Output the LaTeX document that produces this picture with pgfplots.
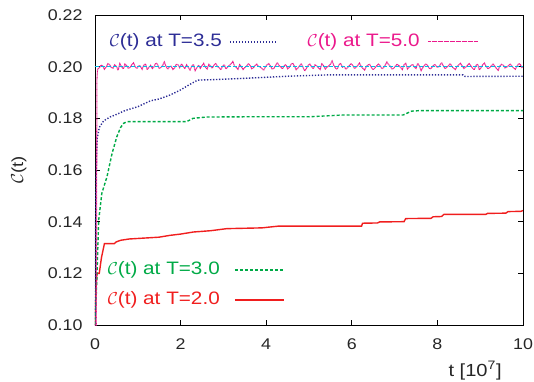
\documentclass[border=0pt]{standalone}
\usepackage{fontspec}
\setmainfont{Liberation Sans}[FakeStretch=1.15]
\usepackage{pgfplots}
\pgfplotsset{compat=1.18}
\definecolor{cblue}{RGB}{45,45,150}
\definecolor{cmag}{RGB}{235,25,140}
\definecolor{cgreen}{RGB}{0,170,70}
\definecolor{cred}{RGB}{240,30,30}
\definecolor{ccyan}{RGB}{0,185,230}
\begin{document}
\begin{tikzpicture}
\begin{axis}[
  at={(0,0)}, anchor=south west,
  scale only axis, width=428pt, height=310pt,
  xmin=0, xmax=10, ymin=0.10, ymax=0.22,
  xtick={0,2,4,6,8,10},
  ytick={0.10,0.12,0.14,0.16,0.18,0.20,0.22},
  /pgf/number format/assume math mode=true,
  yticklabel style={xshift=-9pt, /pgf/number format/fixed, /pgf/number format/fixed zerofill, /pgf/number format/precision=2},
  xticklabel style={yshift=-10pt},
  ticklabel style={font=\fontsize{15.5}{18}\selectfont, text=black!85},
  tick align=inside, major tick length=5pt,
  tick style={black, line width=0.8pt},
  axis line style={black, line width=0.9pt},
  xlabel={t [10\textsuperscript{7}]},
  ylabel={$\mathcal{C}$(t)},
  xlabel style={at={(axis description cs:0.888,-0.147)}, anchor=center, text=black!85, font=\fontsize{17.5}{20}\selectfont},
  ylabel style={at={(axis description cs:-0.178,0.5)}, anchor=center, text=black!85, font=\fontsize{16}{18}\selectfont},
  clip mode=individual,
]
% T=2.0 (red, solid)
\addplot[cred, line width=1.4pt] coordinates {
(0,0.100) (0.02,0.112) (0.045,0.120) (0.10,0.120) (0.15,0.126) (0.22,0.1315)
(0.45,0.1315) (0.50,0.1322) (0.60,0.1328) (0.80,0.1333) (1.50,0.1340)
(1.75,0.1347) (2.00,0.1352) (2.30,0.1360) (2.70,0.1365) (3.08,0.1373)
(3.90,0.1376) (4.30,0.1383) (6.23,0.1383) (6.25,0.1394) (6.60,0.1395)
(6.65,0.1399) (7.22,0.1400) (7.26,0.1412) (7.85,0.1413) (7.90,0.1419)
(8.10,0.1420) (8.15,0.1428) (9.13,0.1428) (9.17,0.1432) (9.60,0.1433)
(9.65,0.1439) (9.95,0.1440) (10,0.1443)
};
% T=3.0 (green, dashed)
\addplot[cgreen, line width=1.4pt, dash pattern=on 3pt off 2pt] coordinates {
(0,0.100) (0.03,0.112) (0.047,0.120) (0.086,0.1406) (0.16,0.151) (0.28,0.1574)
(0.40,0.1665) (0.51,0.1729) (0.60,0.1765) (0.67,0.1781) (0.75,0.1787)
(1.50,0.1787) (2.14,0.1787) (2.29,0.1800) (2.60,0.1805) (3.50,0.1806)
(5.00,0.1806) (5.80,0.1813) (7.20,0.1813) (7.40,0.1828) (7.60,0.1830)
(10,0.1830)
};
% T=3.5 (blue, dotted)
\addplot[cblue, line width=1.4pt, dash pattern=on 1.3pt off 1.7pt] coordinates {
(0,0.100) (0.02,0.150) (0.035,0.165) (0.05,0.172) (0.10,0.1765) (0.20,0.179)
(0.35,0.1805) (0.50,0.1815) (0.70,0.1830) (1.00,0.1845) (1.30,0.1868)
(1.50,0.1875) (1.75,0.1890) (2.00,0.1910) (2.20,0.1930) (2.40,0.1948)
(2.80,0.1950) (3.50,0.1955) (4.50,0.1963) (5.40,0.1968) (7.00,0.1968)
(8.60,0.1968) (8.65,0.1962) (10,0.1963)
};
% T=5.0 (magenta, fine dots)
\addplot[cmag, line width=1.1pt, dash pattern=on 0.7pt off 0.5pt] coordinates {
(0,0.100) (0.03,0.100) (0.045,0.195) (0.06,0.1990)
(0.10,0.1995) (0.14,0.2006) (0.18,0.2003) (0.22,0.1990) (0.26,0.1998) (0.30,0.2012) (0.34,0.2008) (0.38,0.1997) (0.42,0.1994)
(0.46,0.2007) (0.50,0.2001) (0.54,0.1986) (0.58,0.2012) (0.62,0.2000) (0.66,0.1991) (0.70,0.2010) (0.74,0.2004) (0.78,0.1993) (0.82,0.1997)
(0.86,0.2008) (0.90,0.2015) (0.94,0.1999) (0.98,0.1993) (1.02,0.2004) (1.06,0.2002) (1.10,0.1990) (1.14,0.2006) (1.18,0.2011) (1.22,0.1988)
(1.26,0.1998) (1.30,0.2005) (1.34,0.1993) (1.38,0.2000) (1.42,0.2014) (1.46,0.2009) (1.50,0.1994) (1.54,0.1996) (1.58,0.2005) (1.62,0.2018)
(1.66,0.2001) (1.70,0.1990) (1.74,0.1999) (1.78,0.2003) (1.82,0.1989) (1.86,0.1995) (1.90,0.2010) (1.94,0.2007) (1.98,0.1996) (2.02,0.2011)
(2.06,0.2002) (2.10,0.1992) (2.14,0.2007) (2.18,0.1997) (2.22,0.1987) (2.26,0.2002) (2.30,0.2009) (2.34,0.1985) (2.38,0.1996) (2.42,0.2006)
(2.46,0.1994) (2.50,0.2004) (2.54,0.2013) (2.58,0.1998) (2.62,0.1991) (2.66,0.2009) (2.70,0.2003) (2.74,0.1994) (2.78,0.2006) (2.82,0.2013)
(2.86,0.2001) (2.90,0.1996) (2.94,0.1988) (2.98,0.2001) (3.02,0.2008) (3.06,0.1991) (3.10,0.1999) (3.14,0.2005) (3.18,0.2011) (3.22,0.2020)
(3.26,0.2002) (3.30,0.1997) (3.34,0.1990) (3.38,0.2008) (3.42,0.2000) (3.46,0.1989) (3.50,0.1997) (3.54,0.2002) (3.58,0.2012) (3.62,0.2006)
(3.66,0.1992) (3.70,0.1995) (3.74,0.2004) (3.78,0.2010) (3.82,0.2001) (3.86,0.1998) (3.90,0.1993) (3.94,0.1986) (3.98,0.1999) (4.02,0.2007)
(4.06,0.2012) (4.10,0.2003) (4.14,0.1990) (4.18,0.1994) (4.22,0.2005) (4.26,0.2016) (4.30,0.2004) (4.34,0.1999) (4.38,0.1991) (4.42,0.2004)
(4.46,0.2008) (4.50,0.1992) (4.54,0.1997) (4.58,0.2009) (4.62,0.2014) (4.66,0.2002) (4.70,0.1988) (4.74,0.1995) (4.78,0.2003) (4.82,0.2012)
(4.86,0.1998) (4.90,0.1983) (4.94,0.1994) (4.98,0.2005) (5.02,0.2010) (5.06,0.2000) (5.10,0.1992) (5.14,0.2007) (5.18,0.2003) (5.22,0.1996)
(5.26,0.1989) (5.30,0.2011) (5.34,0.2004) (5.38,0.1991) (5.42,0.1998) (5.46,0.2003) (5.50,0.2009) (5.54,0.2022) (5.58,0.2005) (5.62,0.1994)
(5.66,0.1990) (5.70,0.2008) (5.74,0.2013) (5.78,0.1998) (5.82,0.2002) (5.86,0.1990) (5.90,0.1996) (5.94,0.2004) (5.98,0.2011) (6.02,0.2006)
(6.06,0.1993) (6.10,0.1997) (6.14,0.2005) (6.18,0.2014) (6.22,0.2001) (6.26,0.1993) (6.30,0.1987) (6.34,0.2001) (6.38,0.2007) (6.42,0.2009)
(6.46,0.1996) (6.50,0.1988) (6.54,0.1995) (6.58,0.2003) (6.62,0.2010) (6.66,0.2005) (6.70,0.1992) (6.74,0.1996) (6.78,0.2006) (6.82,0.2018)
(6.86,0.2008) (6.90,0.2002) (6.94,0.1990) (6.98,0.1994) (7.02,0.2003) (7.06,0.2010) (7.10,0.2004) (7.14,0.1997) (7.18,0.1989) (7.22,0.2007)
(7.26,0.2013) (7.30,0.1991) (7.34,0.1998) (7.38,0.2004) (7.42,0.2009) (7.46,0.1999) (7.50,0.1993) (7.54,0.2013) (7.58,0.2002) (7.62,0.1985)
(7.66,0.1996) (7.70,0.2006) (7.74,0.2011) (7.78,0.2002) (7.82,0.1991) (7.86,0.1995) (7.90,0.2004) (7.94,0.2009) (7.98,0.2000) (8.02,0.1997)
(8.06,0.2006) (8.10,0.2016) (8.14,0.2003) (8.18,0.1992) (8.22,0.1998) (8.26,0.2004) (8.30,0.2012) (8.34,0.2000) (8.38,0.1994) (8.42,0.1989)
(8.46,0.2001) (8.50,0.2007) (8.54,0.2013) (8.58,0.2003) (8.62,0.1993) (8.66,0.1998) (8.70,0.2005) (8.74,0.2012) (8.78,0.2004) (8.82,0.1994)
(8.86,0.1988) (8.90,0.2005) (8.94,0.2010) (8.98,0.1987) (9.02,0.1996) (9.06,0.2008) (9.10,0.2014) (9.14,0.2001) (9.18,0.1992) (9.22,0.1996)
(9.26,0.2003) (9.30,0.2010) (9.34,0.2002) (9.38,0.1993) (9.42,0.1986) (9.46,0.2003) (9.50,0.2009) (9.54,0.2006) (9.58,0.1995) (9.62,0.1998)
(9.66,0.2004) (9.70,0.2011) (9.74,0.2002) (9.78,0.1995) (9.82,0.1990) (9.86,0.2002) (9.90,0.2012) (9.94,0.2008) (9.97,0.1997) (10.00,0.2000)
};
% reference line at 0.2 (cyan, dashed)
\addplot[ccyan, line width=1.5pt, dash pattern=on 4pt off 2pt] coordinates {(0,0.200) (10,0.200)};

% legend (manual)
\node[anchor=east, inner sep=0pt, text=cblue, font=\fontsize{18}{20}\selectfont] at (axis cs:2.967,0.2096) {$\mathcal{C}$(t) at T=3.5};
\draw[cblue, line width=1.4pt, dash pattern=on 1.3pt off 1.7pt] (axis cs:3.154,0.2096) -- (axis cs:4.25,0.2096);
\node[anchor=east, inner sep=0pt, text=cmag, font=\fontsize{18}{20}\selectfont] at (axis cs:7.59,0.2096) {$\mathcal{C}$(t) at T=5.0};
\draw[cmag, line width=1.1pt, dash pattern=on 0.7pt off 0.5pt] (axis cs:7.78,0.2096) -- (axis cs:8.95,0.2096);
\node[anchor=east, inner sep=0pt, text=cgreen, font=\fontsize{18}{20}\selectfont] at (axis cs:2.92,0.1213) {$\mathcal{C}$(t) at T=3.0};
\draw[cgreen, line width=1.4pt, dash pattern=on 3pt off 2pt] (axis cs:3.27,0.1213) -- (axis cs:4.42,0.1213);
\node[anchor=east, inner sep=0pt, text=cred, font=\fontsize{18}{20}\selectfont] at (axis cs:2.92,0.1097) {$\mathcal{C}$(t) at T=2.0};
\draw[cred, line width=1.4pt] (axis cs:3.27,0.1097) -- (axis cs:4.42,0.1097);
\end{axis}
\pgfresetboundingbox
\path (-95pt,-56pt) rectangle (439pt,325pt);
\end{tikzpicture}
\end{document}
